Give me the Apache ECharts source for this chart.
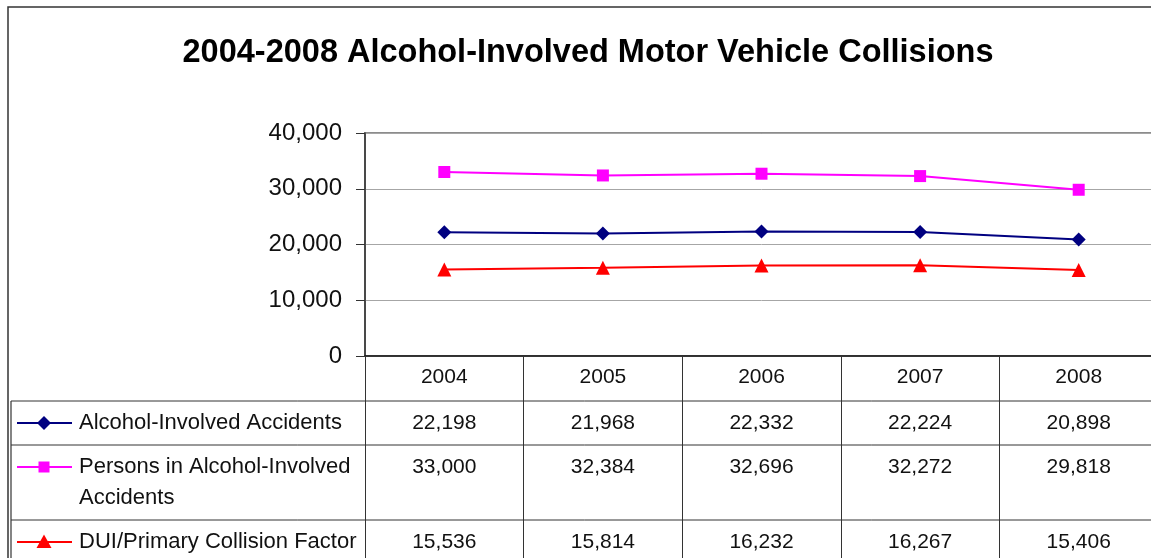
<!DOCTYPE html>
<html>
<head>
<meta charset="utf-8">
<style>
  html, body { margin: 0; padding: 0; background: #fff; overflow: hidden; }
  #chart { width: 1165px; height: 558px; }
</style>
<script src="https://cdn.jsdelivr.net/npm/echarts@6/dist/echarts.min.js"></script>
</head>
<body>
<div id="chart"></div>
<script>
  const years = ['2004', '2005', '2006', '2007', '2008'];
  const accidents = [22198, 21968, 22332, 22224, 20898];
  const persons = [33000, 32384, 32696, 32272, 29818];
  const dui = [15536, 15814, 16232, 16267, 15406];
  const seriesNames = ['Alcohol-Involved Accidents', 'Persons in Alcohol-Involved Accidents', 'DUI/Primary Collision Factor'];
  const seriesValues = [accidents, persons, dui];
  const colors = ['#000080', '#FF00FF', '#FF0000'];
  const symbols = ['diamond', 'rect', 'triangle'];

  // table layout (offsets below the x axis line)
  const rowEdges = [45, 89, 164, 212];
  const tableLeft = 11;
  const font = 'Liberation Sans, Arial, sans-serif';
  const fmt = v => v.toLocaleString('en-US');

  function glyph(kind, cx, cy, color) {
    if (kind === 'rect') {
      return { type: 'rect', shape: { x: cx - 5.5, y: cy - 5.5, width: 11, height: 11 }, style: { fill: color } };
    }
    if (kind === 'diamond') {
      return { type: 'polygon', shape: { points: [[cx, cy - 7], [cx + 7, cy], [cx, cy + 7], [cx - 7, cy]] }, style: { fill: color } };
    }
    return { type: 'polygon', shape: { points: [[cx, cy - 7.5], [cx + 7.5, cy + 6], [cx - 7.5, cy + 6]] }, style: { fill: color } };
  }

  function renderRow(params, api) {
    const r = params.dataIndex;
    const origin = api.coord([0, 0]);
    const band = api.size([1, 0])[0];
    const gridLeft = origin[0] - band / 2;
    const gridRight = api.coord([years.length - 1, 0])[0] + band / 2;
    const top = origin[1] + rowEdges[r];
    const bottom = origin[1] + rowEdges[r + 1];
    const mid = top + 22;
    const children = [
      { type: 'line', shape: { x1: tableLeft, y1: top, x2: gridRight, y2: top }, style: { stroke: '#333', lineWidth: 1 } },
      { type: 'line', shape: { x1: tableLeft, y1: top, x2: tableLeft, y2: bottom }, style: { stroke: '#333', lineWidth: 1.2 } },
      { type: 'line', shape: { x1: tableLeft + 6, y1: mid, x2: tableLeft + 61, y2: mid }, style: { stroke: colors[r], lineWidth: 2 } },
      glyph(symbols[r], tableLeft + 33, mid, colors[r]),
      {
        type: 'text',
        x: tableLeft + 68, y: top + 6.5,
        style: {
          text: seriesNames[r], fill: '#111', font: '22px ' + font,
          lineHeight: 31, width: gridLeft - tableLeft - 72, overflow: 'break',
          align: 'left', verticalAlign: 'top'
        }
      }
    ];
    seriesValues[r].forEach((v, j) => {
      children.push({
        type: 'text',
        x: api.coord([j, 0])[0], y: top + 6.5,
        style: { text: fmt(v), fill: '#111', font: '21px ' + font, lineHeight: 31, align: 'center', verticalAlign: 'top' }
      });
    });
    return { type: 'group', children: children };
  }

  const chart = echarts.init(document.getElementById('chart'));
  chart.setOption({
    backgroundColor: '#fff',
    animation: false,
    textStyle: { fontFamily: font },
    title: {
      text: '2004-2008 Alcohol-Involved Motor Vehicle Collisions',
      left: 583,
      textAlign: 'center',
      top: 32,
      textStyle: { fontSize: 32.5, fontWeight: 'bold', color: '#000', fontFamily: font }
    },
    graphic: [{
      type: 'rect', silent: true,
      shape: { x: 8, y: 7, width: 1200, height: 600 },
      style: { fill: 'none', stroke: '#333', lineWidth: 1.5 }
    }],
    grid: {
      left: 365, top: 133, width: 793, height: 223,
      show: true, borderColor: '#8c8c8c', borderWidth: 2
    },
    xAxis: {
      type: 'category',
      data: years,
      boundaryGap: true,
      axisLine: { lineStyle: { color: '#111', width: 1.5 } },
      axisTick: { show: true, inside: false, length: 212, lineStyle: { color: '#333', width: 1 } },
      axisLabel: { fontSize: 21, color: '#111', margin: 11, fontFamily: font },
      splitLine: { show: false }
    },
    yAxis: {
      type: 'value',
      min: 0, max: 40000, interval: 10000,
      axisLine: { show: true, lineStyle: { color: '#333', width: 1.5 } },
      axisTick: { show: true, length: 9, lineStyle: { color: '#333' } },
      axisLabel: { fontSize: 24, color: '#111', margin: 23, fontFamily: font, formatter: v => fmt(v) },
      splitLine: { show: true, lineStyle: { color: '#a6a6a6', width: 1 } }
    },
    series: seriesNames.map((name, i) => ({
      name: name,
      type: 'line',
      data: seriesValues[i],
      symbol: symbols[i],
      symbolSize: i === 1 ? 12 : 14,
      showSymbol: true,
      itemStyle: { color: colors[i] },
      lineStyle: { color: colors[i], width: 2 },
      z: 3
    })).concat([{
      type: 'custom',
      silent: true,
      clip: false,
      data: seriesNames.map(() => [0, 0]),
      renderItem: renderRow,
      z: 2
    }])
  });
</script>
</body>
</html>
